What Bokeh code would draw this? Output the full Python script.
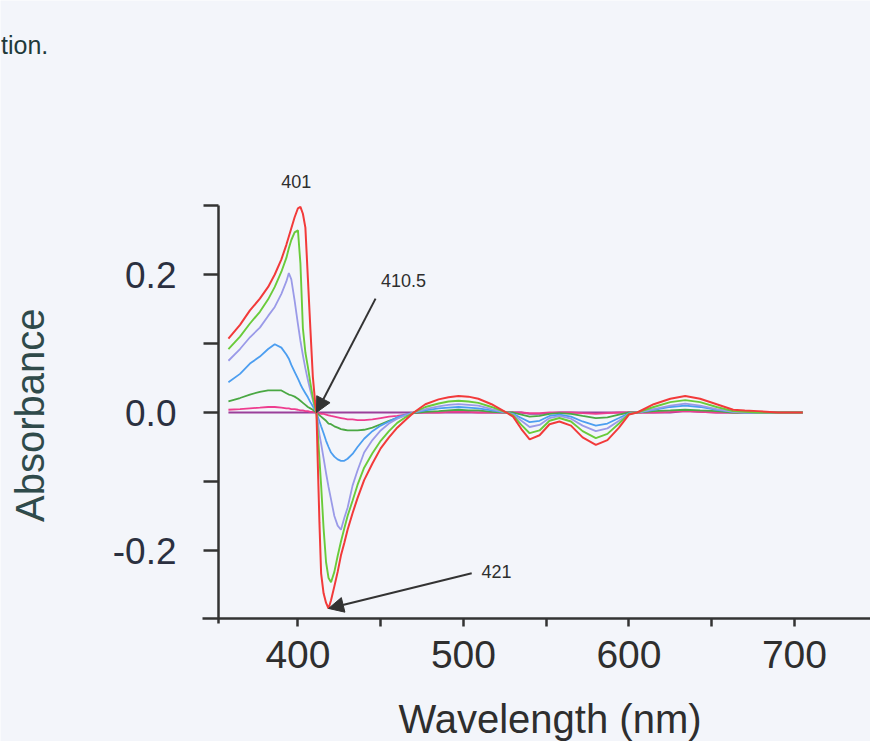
import math
from bokeh.plotting import figure
from bokeh.models import FixedTicker, Label, Arrow, NormalHead, PrintfTickFormatter
from bokeh.embed import file_html
from bokeh.resources import INLINE

# ---------------- data ----------------
wavelength = [358, 365, 371, 377, 382, 386, 390, 393, 394.5, 396, 398,
              400, 401.5, 403, 404.5, 406, 407.5, 409, 410.5, 411.2, 412,
              413, 414, 415.5, 417, 418.5, 420, 422, 424, 426, 428,
              430, 433, 436, 440, 445, 450, 455, 460, 465, 470,
              477, 485, 491, 497, 503, 509, 517, 526, 530, 535,
              540, 546, 552, 558, 565, 572, 580, 587, 594, 600,
              605, 615, 625, 634, 643, 653, 663, 670, 678, 690, 705]

red = [0.107, 0.127, 0.148, 0.165, 0.182, 0.200, 0.222, 0.243, 0.255, 0.267, 0.283,
       0.296, 0.298, 0.288, 0.268, 0.195, 0.122, 0.052, 0.012, 0.0, -0.074,
       -0.160, -0.233, -0.262, -0.276, -0.284, -0.272, -0.252, -0.231, -0.207, -0.189,
       -0.170, -0.146, -0.124, -0.098, -0.074, -0.052, -0.036, -0.022, -0.011, 0.0,
       0.012, 0.019, 0.022, 0.024, 0.023, 0.020, 0.012, 0.0, -0.006, -0.024,
       -0.039, -0.033, -0.017, -0.013, -0.019, -0.036, -0.047, -0.040, -0.022, -0.003,
       0.0, 0.012, 0.020, 0.024, 0.020, 0.012, 0.004, 0.003, 0.002, 0.0, 0.0]

green = [0.092, 0.110, 0.129, 0.146, 0.164, 0.182, 0.204, 0.224, 0.238, 0.250, 0.261,
         0.264, 0.216, 0.122, 0.087, 0.066, 0.043, 0.022, 0.005, 0.0, -0.030,
         -0.068, -0.105, -0.168, -0.217, -0.240, -0.246, -0.231, -0.208, -0.187, -0.168,
         -0.150, -0.128, -0.105, -0.080, -0.059, -0.041, -0.027, -0.015, -0.007, 0.0,
         0.008, 0.013, 0.016, 0.017, 0.016, 0.014, 0.008, 0.0, -0.004, -0.018,
         -0.030, -0.026, -0.012, -0.008, -0.013, -0.027, -0.037, -0.031, -0.016, -0.002,
         0.0, 0.008, 0.015, 0.018, 0.015, 0.008, 0.002, 0.001, 0.0, 0.0, 0.0]

lavender = [0.075, 0.092, 0.109, 0.123, 0.140, 0.153, 0.172, 0.190, 0.202, 0.193, 0.162,
            0.128, 0.104, 0.083, 0.064, 0.047, 0.032, 0.018, 0.004, 0.0, -0.012,
            -0.032, -0.045, -0.066, -0.088, -0.108, -0.126, -0.150, -0.164, -0.170, -0.153,
            -0.138, -0.106, -0.084, -0.058, -0.040, -0.026, -0.016, -0.009, -0.004, 0.0,
            0.005, 0.009, 0.011, 0.012, 0.011, 0.010, 0.005, 0.0, -0.003, -0.012,
            -0.021, -0.018, -0.008, -0.005, -0.009, -0.019, -0.027, -0.023, -0.012, -0.002,
            0.0, 0.005, 0.010, 0.013, 0.010, 0.005, 0.001, 0.0, 0.0, 0.0, 0.0]

blue = [0.044, 0.056, 0.071, 0.081, 0.092, 0.099, 0.094, 0.084, 0.078, 0.069, 0.059,
        0.049, 0.041, 0.034, 0.028, 0.022, 0.015, 0.009, 0.003, 0.0, -0.006,
        -0.013, -0.020, -0.030, -0.041, -0.050, -0.058, -0.064, -0.068, -0.070, -0.070,
        -0.067, -0.060, -0.050, -0.038, -0.027, -0.019, -0.013, -0.007, -0.003, 0.0,
        0.003, 0.006, 0.007, 0.008, 0.007, 0.006, 0.003, 0.0, -0.002, -0.008,
        -0.014, -0.012, -0.005, -0.003, -0.006, -0.013, -0.019, -0.016, -0.008, -0.001,
        0.0, 0.004, 0.008, 0.010, 0.008, 0.004, 0.001, 0.0, 0.0, 0.0, 0.0]

dark_green = [0.016, 0.021, 0.026, 0.030, 0.032, 0.032, 0.032, 0.028, 0.026, 0.025, 0.023,
              0.020, 0.017, 0.014, 0.011, 0.008, 0.006, 0.004, 0.001, 0.0, -0.002,
              -0.004, -0.006, -0.009, -0.012, -0.016, -0.017, -0.020, -0.022, -0.024, -0.025,
              -0.026, -0.026, -0.026, -0.025, -0.022, -0.017, -0.012, -0.008, -0.004, -0.001,
              0.001, 0.002, 0.003, 0.004, 0.003, 0.003, 0.001, 0.0, 0.0, -0.003,
              -0.006, -0.005, -0.002, -0.001, -0.002, -0.005, -0.008, -0.007, -0.003, 0.0,
              0.0, 0.002, 0.003, 0.004, 0.003, 0.002, 0.0, 0.0, 0.0, 0.0, 0.0]

pink = [0.004, 0.005, 0.006, 0.007, 0.008, 0.008, 0.007, 0.006, 0.006, 0.005, 0.005,
        0.004, 0.003, 0.003, 0.002, 0.002, 0.001, 0.001, 0.0, 0.0, -0.001,
        -0.001, -0.002, -0.002, -0.003, -0.004, -0.005, -0.006, -0.007, -0.008, -0.009,
        -0.010, -0.010, -0.011, -0.011, -0.010, -0.008, -0.006, -0.005, -0.003, -0.001,
        0.0, 0.0, 0.001, 0.001, 0.001, 0.0, 0.0, 0.0, 0.0, 0.0,
        -0.001, -0.001, 0.0, 0.0, 0.0, -0.001, -0.002, -0.001, 0.0, 0.0,
        0.0, 0.0, 0.001, 0.002, 0.001, 0.0, 0.0, 0.0, 0.0, 0.0, 0.0]

purple = [0.0] * 51 + [-0.002, -0.002, -0.001] + [0.0] * 10 + [0.002, 0.001] + [0.0] * 6

series = [("purple", purple, "#9a3f9a", 1.8),
          ("pink", pink, "#ee3d8f", 1.8),
          ("dark_green", dark_green, "#4aa843", 1.8),
          ("blue", blue, "#4c9ef0", 1.8),
          ("lavender", lavender, "#9a9ae8", 1.8),
          ("green", green, "#6acb3a", 1.9),
          ("red", red, "#f23a3a", 2.0)]

x_ticks = [400, 500, 600, 700]
x_minor = [450, 550, 650]
y_ticks = [-0.2, 0.0, 0.2]
y_minor = [-0.1, 0.1, 0.3]

peak_label = "401"
iso_label = "410.5"
min_label = "421"

# ---------------- figure ----------------
BG = "#f3f5fa"
AX = "#333333"
FONT = "Liberation Sans"

X0 = 352           # where the y axis stands (nm)
Y_BOTTOM = -0.298  # where the x axis stands

p = figure(width=870, height=741, x_range=(220.28, 745.96), y_range=(-0.4768, 0.5971),
           output_backend="svg", toolbar_location=None,
           min_border_left=0, min_border_right=0, min_border_top=0, min_border_bottom=0)
p.background_fill_color = BG
p.border_fill_color = BG
p.outline_line_color = None
p.grid.visible = False

for name, vals, col, lw in series:
    p.line(wavelength, vals, line_color=col, line_width=lw)

# axes (Prism-style: placed at fixed data positions)
p.xaxis.ticker = FixedTicker(ticks=x_ticks, minor_ticks=x_minor)
p.yaxis.ticker = FixedTicker(ticks=y_ticks, minor_ticks=y_minor)
p.yaxis.formatter = PrintfTickFormatter(format="%.1f")
p.xaxis.fixed_location = Y_BOTTOM
p.yaxis.fixed_location = X0
p.xaxis.bounds = (342.3, 745.9)
p.yaxis.bounds = (-0.306, 0.3)
for ax in (p.xaxis, p.yaxis):
    ax.axis_line_color = AX
    ax.axis_line_width = 2.5
    ax.major_tick_line_color = AX
    ax.minor_tick_line_color = AX
    ax.major_tick_line_width = 2.5
    ax.minor_tick_line_width = 2.5
    ax.major_tick_in = 0
    ax.minor_tick_in = 0
    ax.major_label_text_font = FONT
p.xaxis.major_tick_out = 8
p.xaxis.minor_tick_out = 8
p.xaxis.major_label_text_font_size = "39px"
p.xaxis.major_label_text_color = "#2e2e2e"
p.xaxis.major_label_standoff = 15
p.yaxis.major_tick_out = 15
p.yaxis.minor_tick_out = 15
p.yaxis.major_label_text_font_size = "37px"
p.yaxis.major_label_text_color = "#2b3040"
p.yaxis.major_label_standoff = 27

# axis titles
p.add_layout(Label(x=552.3, y=-0.4435, text="Wavelength (nm)", text_font=FONT,
                   text_font_size="40px", text_color="#2e2e2e", text_align="center",
                   text_baseline="middle"))
p.add_layout(Label(x=238.4, y=-0.004, text="Absorbance", text_font=FONT, angle=math.pi / 2,
                   text_font_size="40px", text_color="#2f4a4a", text_align="center",
                   text_baseline="middle"))

# annotations derived from the data
i_max = red.index(max(red))
i_min = red.index(min(red))
i_iso = wavelength.index(411.2)

p.add_layout(Label(x=wavelength[i_max] - 2.5, y=0.335, text=peak_label, text_font=FONT,
                   text_font_size="18px", text_color="#2e2e2e", text_align="center",
                   text_baseline="middle"))
p.add_layout(Label(x=463.8, y=0.191, text=iso_label, text_font=FONT,
                   text_font_size="18px", text_color="#2e2e2e", text_align="center",
                   text_baseline="middle"))
p.add_layout(Label(x=520, y=-0.230, text=min_label, text_font=FONT,
                   text_font_size="18px", text_color="#2e2e2e", text_align="center",
                   text_baseline="middle"))

head = dict(size=15, fill_color="#333333", line_color="#333333")
p.add_layout(Arrow(end=NormalHead(**head), x_start=446.9, y_start=0.165,
                   x_end=wavelength[i_iso], y_end=0.0,
                   line_color="#333333", line_width=2))
p.add_layout(Arrow(end=NormalHead(**head), x_start=505, y_start=-0.233,
                   x_end=wavelength[i_min], y_end=red[i_min],
                   line_color="#333333", line_width=2))

# text fragment of the page above the chart
p.add_layout(Label(x=220.6, y=0.532, text="tion.", text_font=FONT,
                   text_font_size="25px", text_color="#1f3a3a", text_align="left",
                   text_baseline="middle"))

open("out.html", "w").write(file_html(p, INLINE))
